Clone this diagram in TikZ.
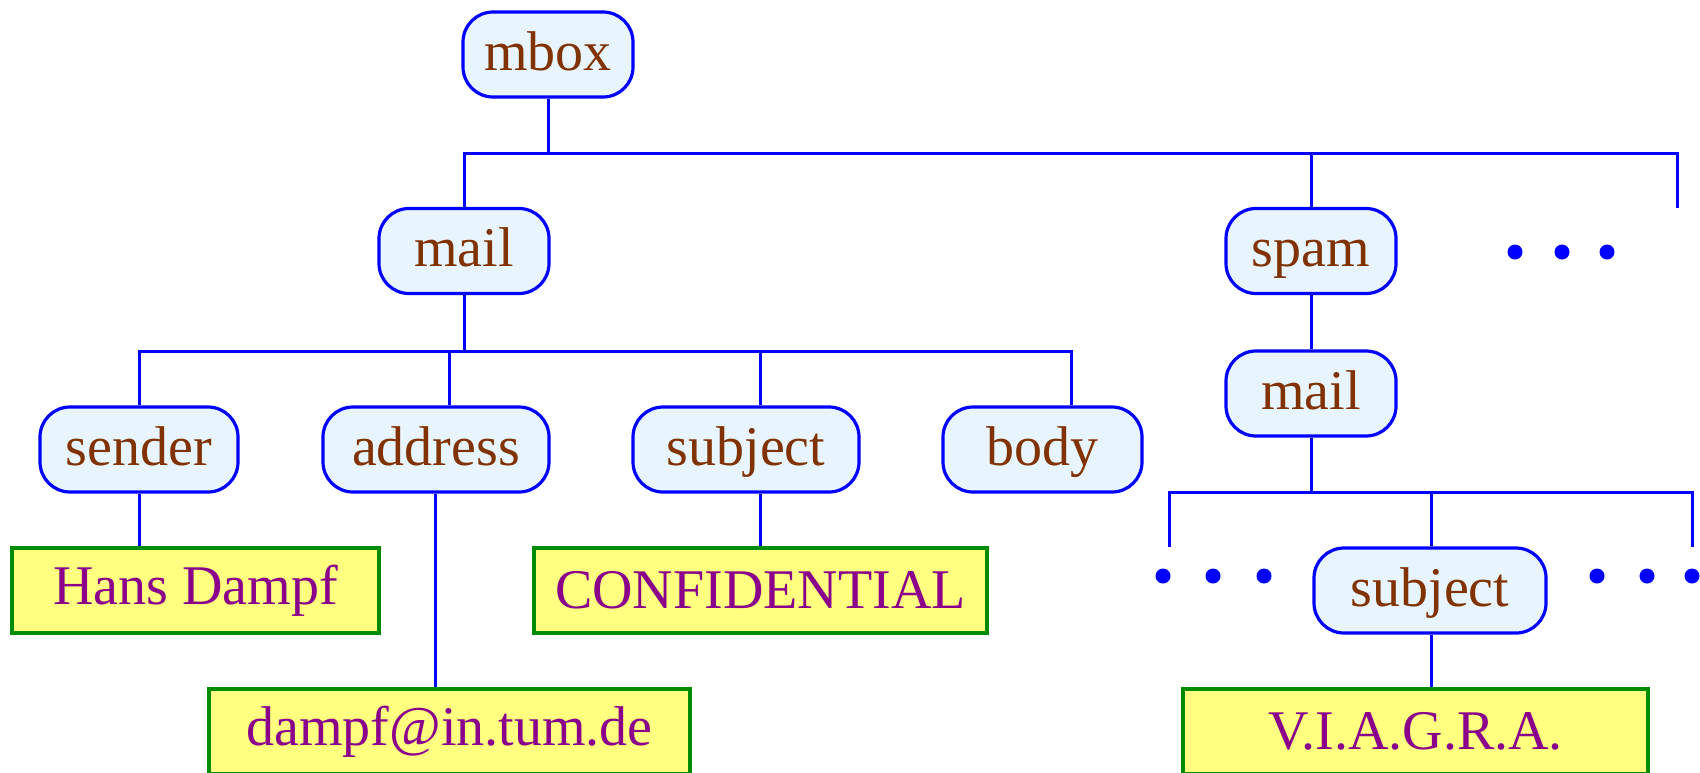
\documentclass[tikz,border=0pt]{standalone}
\usepackage{fontspec}
\setmainfont{Liberation Serif}
\definecolor{tagfill}{RGB}{232,245,255}
\definecolor{tagline}{RGB}{0,0,255}
\definecolor{tagtext}{RGB}{128,51,0}
\definecolor{leaffill}{RGB}{255,255,128}
\definecolor{leafline}{RGB}{0,140,0}
\definecolor{leaftext}{RGB}{139,0,139}
\tikzset{
  tag/.style={draw=tagline, fill=tagfill, line width=3.2pt, rounded corners=30pt,
    text=tagtext, inner sep=0pt, minimum height=85pt,
    text height=42pt, text depth=11pt,
    font=\fontsize{56pt}{60pt}\selectfont},
  leaf/.style={draw=leafline, fill=leaffill, line width=3.2pt,
    text=leaftext, inner sep=0pt, minimum height=85pt,
    font=\fontsize{56pt}{60pt}\selectfont},
  conn/.style={draw=tagline, line width=3pt},
  dot/.style={fill=tagline, circle, inner sep=0pt, minimum size=15pt}
}
\begin{document}
\begin{tikzpicture}[x=1pt, y=-1pt]
\useasboundingbox (0,0) rectangle (1700,772);

% element nodes
\node[tag, minimum width=170pt] (mbox) at (548,54.5) {mbox};
\node[tag, minimum width=170pt] (mail) at (464,251) {mail};
\node[tag, minimum width=170pt] (spam) at (1311,251) {spam};
\node[tag, minimum width=198pt] (sender) at (139,449.5) {sender};
\node[tag, minimum width=226pt] (address) at (436,449.5) {address};
\node[tag, minimum width=226pt] (subject) at (746,449.5) {subject};
\node[tag, minimum width=199pt] (body) at (1042.5,449.5) {body};
\node[tag, minimum width=170pt] (smail) at (1311,393.5) {mail};
\node[tag, minimum width=232pt] (ssubject) at (1430,590.5) {subject};

% text leaves
\node[leaf, minimum width=367pt] (hans) at (195.5,590.5) {Hans Dampf};
\node[leaf, minimum width=453pt] (conf) at (760.5,590.5) {CONFIDENTIAL};
\node[leaf, minimum width=481pt] (addr) at (449.5,731.5) {dampf@in.tum.de};
\node[leaf, minimum width=465pt] (viagra) at (1415.5,731.5) {V.I.A.G.R.A.};

% elided siblings
\node[dot] (d1) at (1515,252) {};
\node[dot] (d2) at (1562,252) {};
\node[dot] (d3) at (1607,252) {};
\node[dot] (e1) at (1163,576) {};
\node[dot] (e2) at (1213,576) {};
\node[dot] (e3) at (1264,576) {};
\node[dot] (f1) at (1597,576) {};
\node[dot] (f2) at (1647,576) {};
\node[dot] (f3) at (1692,576) {};

% junction points of the connector bars
\coordinate (top) at (548,153);
\coordinate (topend) at (1677,208);
\coordinate (mid) at (464,351);
\coordinate (addrin) at (449,351);
\coordinate (subjin) at (760,351);
\coordinate (bodyin) at (1071,351);
\coordinate (addrout) at (435,492);
\coordinate (sbar) at (1311,492);
\coordinate (sleft) at (1169,547);
\coordinate (sright) at (1692,547);
\coordinate (ssubjin) at (1431,492);

% mbox level
\draw[conn] (mbox.south) -- (top);
\draw[conn] (mail.north) |- (top);
\draw[conn] (top) -| (spam.north);
\draw[conn] (spam.north |- top) -| (topend);

% mail children
\draw[conn] (mail.south) -- (mid);
\draw[conn] (sender.north) |- (mid);
\draw[conn] (mid) -| (bodyin) -- (bodyin |- body.north);
\draw[conn] (addrin) -- (addrin |- address.north);
\draw[conn] (subjin) -- (subjin |- subject.north);

% leaves under mail
\draw[conn] (sender.south) -- (sender.south |- hans.north);
\draw[conn] (addrout |- address.south) -- (addrout |- addr.north);
\draw[conn] (subjin |- subject.south) -- (subjin |- conf.north);

% spam branch
\draw[conn] (spam.south) -- (smail.north);
\draw[conn] (smail.south) -- (sbar);
\draw[conn] (sleft) |- (sbar) -| (sright);
\draw[conn] (ssubjin) -- (ssubjin |- ssubject.north);
\draw[conn] (ssubjin |- ssubject.south) -- (ssubjin |- viagra.north);
\end{tikzpicture}
\end{document}
